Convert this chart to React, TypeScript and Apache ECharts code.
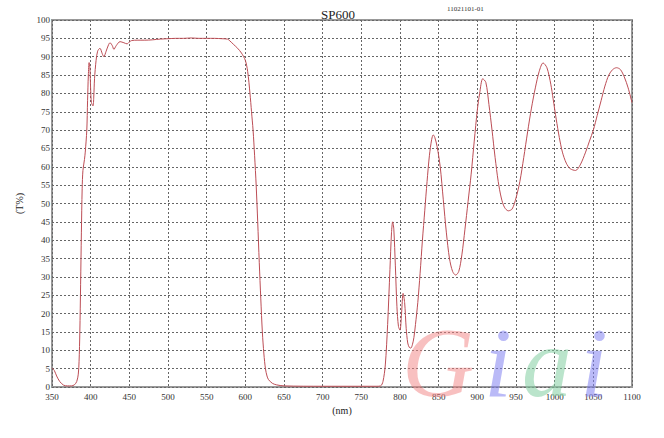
import React, { useEffect, useRef } from "react";
import * as echarts from "echarts";

const wavelengths: number[] = [
  350, 353, 356, 360, 365, 370, 375, 379, 382, 384, 385, 386, 387, 388, 389, 390, 392, 393, 395, 396, 397, 398, 399,
  400, 401, 403, 404, 405, 407, 409, 412, 415, 417, 420, 423, 425, 428, 430, 433, 438, 443, 447, 450, 453, 460, 470,
  480, 490, 500, 510, 520, 530, 540, 550, 560, 570, 577, 580, 585, 590, 595, 600, 603, 606, 608, 610, 612, 614, 616,
  618, 620, 622, 624, 626, 628, 630, 635, 640, 650, 700, 750, 770, 775, 778, 781, 784, 787, 789, 790.5, 792, 794, 796,
  798, 800, 802, 804, 806, 808, 810, 812, 814, 816, 818, 820, 823, 826, 829, 832, 835, 838, 841, 843, 845, 848, 852,
  856, 860, 864, 868, 872, 876, 880, 884, 888, 892, 896, 900, 903, 907, 911, 915, 919, 923, 927, 931, 935, 940, 945,
  950, 955, 960, 965, 970, 975, 980, 985, 990, 995, 998, 1002, 1006, 1010, 1015, 1020, 1027, 1033, 1040, 1045, 1050,
  1055, 1060, 1065, 1070, 1075, 1080, 1085, 1090, 1095, 1100,
];

const transmission: number[] = [
  5.2, 4.5, 3, 1.5, 0.5, 0.3, 0.3, 0.6, 1.5, 3.5, 7, 15, 28, 42, 54, 59, 62, 64, 70, 78, 85, 88.4, 87,
  81, 77.5, 76.6, 79, 84, 89, 91.5, 92.3, 90.8, 90, 91.5, 93.2, 93.8, 93, 92, 93, 94.1, 93.8, 93.5, 94, 94.4, 94.5, 94.5,
  94.6, 94.8, 94.9, 95, 95, 95.1, 95, 95, 95, 94.9, 94.8, 94.3, 93.3, 92.3, 91, 89, 86, 80, 75, 70, 63, 55, 45,
  34, 24, 15, 9, 5, 3, 2, 1, 0.6, 0.3, 0.2, 0.2, 0.2, 0.3, 1.5, 6, 17, 32, 42, 45, 43, 33, 22,
  16.5, 15.5, 20, 25.5, 23, 16, 12, 10.8, 10.6, 11.5, 13.5, 17, 23, 31, 40, 48, 56, 63, 67.5, 68.7, 68, 65.5, 60,
  51, 42, 35, 31.5, 30.5, 31.5, 36, 43, 50.5, 58, 67, 75.5, 80, 84, 83, 77, 70, 62.5, 56, 51.5, 49, 48, 48.5,
  51.5, 56, 62.5, 69.5, 76, 81.5, 86, 88.3, 87, 82.5, 78.5, 73, 68, 64, 61, 59.5, 59, 60.5, 64, 67, 70,
  74, 78, 82, 85, 86.5, 87, 86.5, 84.5, 81.5, 77.5,
];

const titleText = "SP600";
const codeText = "11021101-01";
const xName = "(nm)";
const yName = "(T%)";
const watermarkLetters = ["G", "i", "a", "i"];

export default function App() {
  const ref = useRef<HTMLDivElement>(null);
  useEffect(() => {
    if (!ref.current) return;
    const chart = echarts.init(ref.current, null, { renderer: "svg" });
    const serif = "Liberation Serif";
    const wmColors = ["rgba(242,130,130,0.5)", "rgba(130,130,240,0.55)", "rgba(130,205,160,0.55)", "rgba(130,130,240,0.55)"];
    const wmX = [402, 484, 522, 580];
    chart.setOption({
      animation: false,
      backgroundColor: "#ffffff",
      title: {
        text: titleText,
        left: 333,
        top: 3,
        textAlign: "center",
        textStyle: { fontFamily: serif, fontSize: 13, fontWeight: "normal", color: "#222" },
      },
      graphic: [
        {
          type: "text",
          left: 447,
          top: 5,
          style: { text: codeText, font: `7px ${serif}`, fill: "#333" },
        },
        ...watermarkLetters.map((ch, i) => ({
          type: "text",
          x: wmX[i],
          y: 312,
          z: 1,
          style: {
            text: ch,
            fontFamily: serif,
            fontStyle: "italic",
            fontSize: 100,
            fill: wmColors[i],
          },
        })),
      ],
      grid: {
        left: 52,
        right: 32,
        top: 20,
        bottom: 51,
        show: true,
        borderColor: "#999999",
        borderWidth: 2,
        backgroundColor: "transparent",
      },
      xAxis: {
        type: "value",
        min: 350,
        max: 1100,
        interval: 50,
        name: xName,
        nameLocation: "middle",
        nameGap: 16,
        nameTextStyle: { fontFamily: serif, fontSize: 10, color: "#222" },
        axisLine: { show: false },
        axisTick: { show: false },
        axisLabel: { fontFamily: serif, fontSize: 9, color: "#333", margin: 5, formatter: (v: number) => String(v) },
        splitLine: { show: true, lineStyle: { color: "#666", type: [2, 2], width: 1 } },
      },
      yAxis: {
        type: "value",
        min: 0,
        max: 100,
        interval: 5,
        name: yName,
        nameLocation: "middle",
        nameGap: 28,
        nameTextStyle: { fontFamily: serif, fontSize: 10, color: "#222" },
        axisLine: { show: false },
        axisTick: { show: false },
        axisLabel: { fontFamily: serif, fontSize: 9, color: "#333", margin: 2 },
        splitLine: { show: true, lineStyle: { color: "#666", type: [2, 2], width: 1 } },
      },
      series: [
        {
          type: "line",
          data: wavelengths.map((w, i) => [w, transmission[i]]),
          symbol: "none",
          smooth: 0.3,
          z: 3,
          lineStyle: { color: "#bc4d55", width: 1 },
        },
      ],
    });
    return () => chart.dispose();
  }, []);
  return <div ref={ref} style={{ width: 664, height: 438, position: "absolute", left: 0, top: 0 }} />;
}
